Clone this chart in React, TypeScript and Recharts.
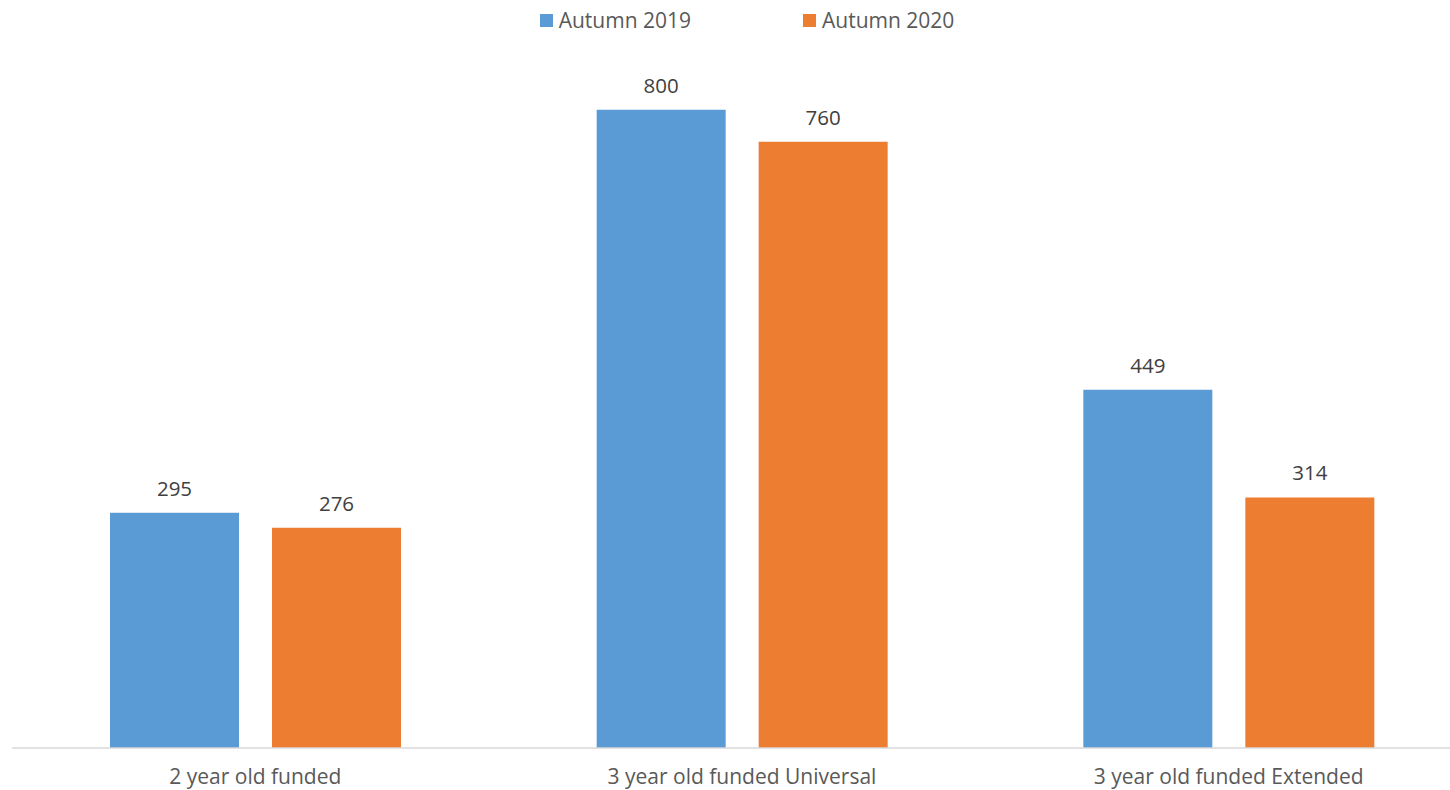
import { BarChart, Bar, XAxis, YAxis, LabelList } from "recharts";

const categories = ["2 year old funded", "3 year old funded Universal", "3 year old funded Extended"];
const autumn2019 = [295, 800, 449];
const autumn2020 = [276, 760, 314];

const series = [
  { key: "autumn2019", name: "Autumn 2019", color: "#5B9BD5" },
  { key: "autumn2020", name: "Autumn 2020", color: "#ED7D31" },
];

const data = categories.map((name, i) => ({
  name,
  autumn2019: autumn2019[i],
  autumn2020: autumn2020[i],
}));

const font = "'Open Sans', 'Noto Sans', sans-serif";

export default function App() {
  return (
    <div
      style={{
        position: "absolute",
        left: 0,
        top: 0,
        width: 1450,
        height: 790,
        overflow: "hidden",
        background: "#fff",
        fontFamily: font,
      }}
    >
      <div
        style={{
          position: "absolute",
          top: 6,
          left: 17,
          width: 1460,
          display: "flex",
          justifyContent: "center",
          gap: 112,
          fontSize: 21,
          lineHeight: "28px",
          color: "#595959",
        }}
      >
        {series.map((s) => (
          <div key={s.key} style={{ display: "flex", alignItems: "center" }}>
            <span style={{ width: 13, height: 13, background: s.color, marginRight: 6, display: "inline-block" }} />
            <span>{s.name}</span>
          </div>
        ))}
      </div>
      <BarChart
        width={1472}
        height={790}
        data={data}
        margin={{ top: 30, right: 0, left: 12, bottom: 0 }}
        barSize={129}
        barGap={33}
        style={{ fontFamily: font }}
      >
        <XAxis
          dataKey="name"
          height={42}
          tickLine={false}
          axisLine={{ stroke: "#D9D9D9", strokeWidth: 1.5 }}
          tick={{ fontSize: 21, fill: "#595959" }}
          tickMargin={15}
          interval={0}
        />
        <YAxis hide domain={[0, 900]} />
        {series.map((s) => (
          <Bar key={s.key} dataKey={s.key} name={s.name} fill={s.color} isAnimationActive={false}>
            <LabelList dataKey={s.key} position="top" offset={17} fontSize={20.5} fill="#404040" />
          </Bar>
        ))}
      </BarChart>
    </div>
  );
}
